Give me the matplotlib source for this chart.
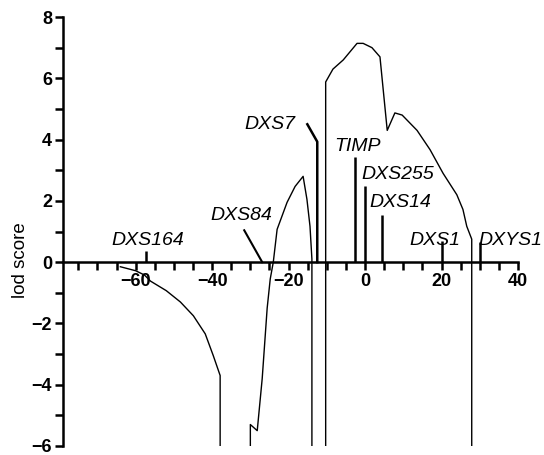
import matplotlib.pyplot as plt
from matplotlib.ticker import MultipleLocator, FuncFormatter

plt.rcParams['font.family'] = ['Liberation Sans', 'DejaVu Sans']

# lod score curves (cM position, lod)
left_x = [-64, -60, -57.7, -56.1, -52, -48.3, -44.9, -41.8, -39.7, -37.9, -37.9]
left_y = [-0.15, -0.28, -0.42, -0.62, -0.93, -1.3, -1.75, -2.34, -3.05, -3.7, -6]

mid_x = [-30, -30, -28.2, -26.9, -25.6, -24.8, -24.0, -23.0, -20.4, -18.3, -16.2, -15.2, -14.4, -13.9, -13.9]
mid_y = [-6, -5.3, -5.5, -3.8, -1.5, -0.55, 0, 1.07, 1.95, 2.47, 2.8, 2.05, 1.17, 0.1, -6]

right_x = [-10.3, -10.3, -8.4, -5.7, -2.1, -0.5, 1.8, 3.9, 5.8, 7.8, 9.7, 13.6, 17, 20.4, 24, 25.6, 26.6, 27.9, 27.9]
right_y = [-6, 5.88, 6.3, 6.6, 7.14, 7.14, 7.0, 6.7, 4.3, 4.87, 4.8, 4.3, 3.67, 2.9, 2.2, 1.72, 1.17, 0.75, -6]

# markers: name, position, line height, label x, label y
markers = ["DXS164", "TIMP", "DXS255", "DXS14", "DXS1", "DXYS1"]
marker_pos = [-57.2, -2.6, 0.0, 4.5, 20.2, 30.0]
marker_h = [0.36, 3.44, 2.47, 1.53, 0.68, 0.65]
label_x = [-56.7, -2.1, 8.6, 9.2, 18.3, 37.9]
label_y = [0.72, 3.77, 2.86, 1.95, 0.72, 0.72]

# markers drawn with bent leader lines
dxs84_x = [-26.9, -31.6]
dxs84_y = [0, 1.04]
dxs7_x = [-12.5, -12.5, -15.1]
dxs7_y = [0, 3.93, 4.5]


def tick_text(v, step):
    n = int(round(v))
    if n % step != 0:
        return ""
    return ("\u2212%d" % -n) if n < 0 else "%d" % n


fig = plt.figure(figsize=(5.44, 4.55), dpi=100)
ax = fig.add_axes([0.1158, 0.0198, 0.8364, 0.9428])

ax.plot(left_x, left_y, color="black", lw=1.0)
ax.plot(mid_x, mid_y, color="black", lw=1.0)
ax.plot(right_x, right_y, color="black", lw=1.0)

for p, h in zip(marker_pos, marker_h):
    ax.plot([p, p], [0, h], color="black", lw=1.8, solid_capstyle="butt")
ax.plot(dxs84_x, dxs84_y, color="black", lw=1.5)
ax.plot(dxs7_x, dxs7_y, color="black", lw=1.8)

for name, tx, ty in zip(markers, label_x, label_y):
    ax.text(tx, ty, name, ha="center", va="center", style="italic", fontsize=14, clip_on=False)
ax.text(-32.4, 1.52, "DXS84", ha="center", va="center", style="italic", fontsize=14)
ax.text(-24.8, 4.48, "DXS7", ha="center", va="center", style="italic", fontsize=14)

ax.set_xlim(-79, 40)
ax.set_ylim(-6, 8)

ax.spines["top"].set_visible(False)
ax.spines["right"].set_visible(False)
ax.spines["bottom"].set_position(("data", 0))
ax.spines["left"].set_linewidth(1.8)
ax.spines["bottom"].set_linewidth(1.8)

ax.xaxis.set_major_locator(MultipleLocator(5))
ax.xaxis.set_major_formatter(FuncFormatter(lambda v, p: tick_text(v, 20) if v > -70 else ""))
ax.yaxis.set_major_locator(MultipleLocator(1))
ax.yaxis.set_major_formatter(FuncFormatter(lambda v, p: tick_text(v, 2)))
ax.tick_params(axis="both", direction="out", length=6, width=1.8, labelsize=13, pad=2)
for lab in ax.get_xticklabels() + ax.get_yticklabels():
    lab.set_fontweight("bold")

ax.set_ylabel("lod score", fontsize=13.5)
ax.yaxis.set_label_coords(-0.075, 0.434)

fig.savefig("out.png", dpi=100)
